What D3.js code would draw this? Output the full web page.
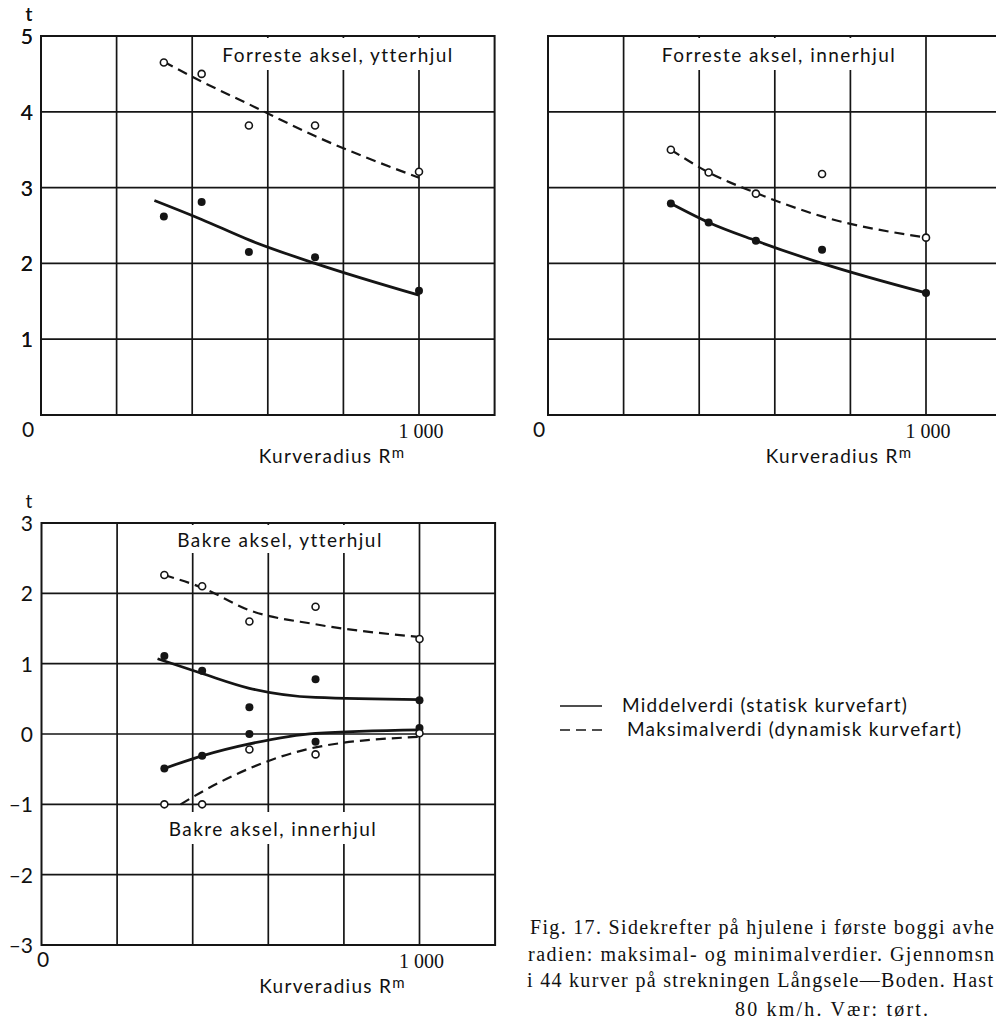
<!DOCTYPE html>
<html>
<head>
<meta charset="utf-8">
<script src="https://cdn.jsdelivr.net/npm/d3@7"></script>
<style>
  body { margin: 0; background: #fff; }
  svg { display: block; }
  .lbl { font-family: Lato, "Open Sans", sans-serif; fill: #111; }
  .num { font-family: "Liberation Serif", serif; fill: #111; }
</style>
</head>
<body>
<div id="chart"></div>
<script>
// Canvas
let width = 996;
let height = 1029;

// Kurveradius (m) for the measured points
let radius = [325, 425, 550, 725, 1000];

// Forreste aksel, ytterhjul
let frontOuterMax = [4.65, 4.50, 3.82, 3.82, 3.21];
let frontOuterMean = [2.62, 2.81, 2.15, 2.08, 1.64];
let frontOuterMaxFitR = [325, 425, 550, 725, 1000];
let frontOuterMaxFit = [4.66, 4.40, 4.10, 3.68, 3.13];
let frontOuterMeanFitR = [300, 425, 550, 725, 1000];
let frontOuterMeanFit = [2.83, 2.58, 2.31, 2.00, 1.58];

// Forreste aksel, innerhjul
let frontInnerMax = [3.50, 3.20, 2.92, 3.18, 2.34];
let frontInnerMean = [2.79, 2.54, 2.30, 2.18, 1.61];
let frontInnerMaxFitR = [325, 425, 550, 725, 1000];
let frontInnerMaxFit = [3.50, 3.20, 2.93, 2.62, 2.34];
let frontInnerMeanFitR = [325, 425, 550, 725, 1000];
let frontInnerMeanFit = [2.79, 2.54, 2.30, 2.00, 1.61];

// Bakre aksel, ytterhjul / innerhjul
let rearOuterMax = [2.26, 2.10, 1.60, 1.81, 1.35];
let rearOuterMean = [1.11, 0.90, 0.38, 0.78, 0.48];
let rearInnerMean = [-0.49, -0.31, 0.00, -0.11, 0.085];
let rearInnerMax = [-1.00, -1.00, -0.22, -0.29, 0.01];
let rearOuterMaxFitR = [325, 425, 550, 725, 1000];
let rearOuterMaxFit = [2.26, 2.08, 1.76, 1.56, 1.38];
let rearOuterMeanFitR = [307, 425, 550, 725, 1000];
let rearOuterMeanFit = [1.07, 0.86, 0.65, 0.52, 0.49];
let rearInnerMeanFitR = [325, 425, 550, 725, 1000];
let rearInnerMeanFit = [-0.49, -0.31, -0.14, 0.01, 0.06];
let rearInnerMaxFitR = [368, 425, 550, 725, 1000];
let rearInnerMaxFit = [-1.00, -0.82, -0.49, -0.19, -0.04];

// Ticks
let xTicks = [0, 200, 400, 600, 800, 1000, 1200];
let topYTicks = [0, 1, 2, 3, 4, 5];
let bottomYTicks = [-3, -2, -1, 0, 1, 2, 3];

// Texts
let axisTitle = "Kurveradius R";
let legendLabels = ["Middelverdi (statisk kurvefart)", "Maksimalverdi (dynamisk kurvefart)"];
let captionLines = [
    "Fig. 17. Sidekrefter på hjulene i første boggi avhe",
    "radien: maksimal- og minimalverdier. Gjennomsn",
    "i 44 kurver på strekningen Långsele—Boden. Hast",
    "80 km/h. Vær: tørt."
];

let ink = "#151515";
let dash = "10,6";

let svg = d3.select("#chart")
    .append("svg")
    .attr("width", width)
    .attr("height", height);

let pair = (rs, vs) => rs.map((r, i) => [r, vs[i]]);

function drawPanel(p) {
    let xScale = d3.scaleLinear().domain([0, 1200]).range([p.left, p.left + 6 * 75.6]);
    let yScale = d3.scaleLinear().domain(p.yDomain).range([p.bottom, p.top]);
    let g = svg.append("g");

    // grid
    g.selectAll(".vgrid")
        .data(xTicks.slice(1, -1))
        .enter().append("line")
        .attr("x1", d => xScale(d)).attr("x2", d => xScale(d))
        .attr("y1", p.top).attr("y2", p.bottom)
        .attr("stroke", ink).attr("stroke-width", 1.7);
    g.selectAll(".hgrid")
        .data(p.yTicks.slice(1, -1))
        .enter().append("line")
        .attr("x1", p.left).attr("x2", xScale(1200))
        .attr("y1", d => yScale(d)).attr("y2", d => yScale(d))
        .attr("stroke", ink).attr("stroke-width", 1.7);

    // white boxes behind the panel titles
    p.titles.forEach(t => {
        g.append("rect")
            .attr("x", t.box[0]).attr("y", t.box[1])
            .attr("width", t.box[2]).attr("height", t.box[3])
            .attr("fill", "#fff");
    });

    // frame
    g.append("rect")
        .attr("x", p.left).attr("y", p.top)
        .attr("width", xScale(1200) - p.left).attr("height", p.bottom - p.top)
        .attr("fill", "none").attr("stroke", ink).attr("stroke-width", 2);

    p.titles.forEach(t => {
        g.append("text").attr("class", "lbl")
            .attr("x", t.x).attr("y", t.y)
            .attr("text-anchor", "middle")
            .style("font-size", "19px").style("letter-spacing", "1.45px")
            .text(t.text);
    });

    // y tick labels
    g.selectAll(".ylab")
        .data(p.yTicks.filter(d => d !== p.skipY))
        .enter().append("text").attr("class", "lbl")
        .attr("x", 33).attr("y", d => yScale(d) + 8)
        .attr("text-anchor", "end")
        .style("font-size", "21px")
        .text(d => d < 0 ? "\u2013" + Math.abs(d) : d);
    g.append("text").attr("class", "lbl")
        .attr("x", 29).attr("y", p.top - 15)
        .attr("text-anchor", "middle").style("font-size", "19px")
        .text("t");

    // x labels
    g.append("text").attr("class", "lbl")
        .attr("x", p.zeroX).attr("y", p.zeroY)
        .attr("text-anchor", "middle").style("font-size", "21px")
        .text("0");
    g.append("text").attr("class", "num")
        .attr("x", xScale(1000) + 2).attr("y", p.bottom + 23)
        .attr("text-anchor", "middle").style("font-size", "20px")
        .text("1 000");
    let at = g.append("text").attr("class", "lbl")
        .attr("x", xScale(770)).attr("y", p.bottom + 48)
        .attr("text-anchor", "middle")
        .style("font-size", "19px").style("letter-spacing", "1.3px")
        .text(axisTitle);
    at.append("tspan").attr("dy", -5).style("font-size", "15px").text("m");

    // fitted curves
    let line = d3.line()
        .curve(d3.curveMonotoneX)
        .x(d => xScale(d[0]))
        .y(d => yScale(d[1]));
    p.fits.forEach(f => {
        g.append("path")
            .datum(f.pts)
            .attr("d", line)
            .attr("fill", "none")
            .attr("stroke", ink)
            .attr("stroke-width", f.dashed ? 2.2 : 2.8)
            .attr("stroke-dasharray", f.dashed ? dash : null);
    });

    // points
    p.means.forEach(vals => {
        g.selectAll(null)
            .data(pair(radius, vals))
            .enter().append("circle")
            .attr("cx", d => xScale(d[0])).attr("cy", d => yScale(d[1]))
            .attr("r", 4).attr("fill", ink);
    });
    p.maxes.forEach(vals => {
        g.selectAll(null)
            .data(pair(radius, vals))
            .enter().append("circle")
            .attr("cx", d => xScale(d[0])).attr("cy", d => yScale(d[1]))
            .attr("r", 3.5).attr("fill", "#fff")
            .attr("stroke", ink).attr("stroke-width", 1.6);
    });
}

drawPanel({
    left: 41, top: 36, bottom: 415, yDomain: [0, 5], yTicks: topYTicks, skipY: 0,
    zeroX: 28, zeroY: 437,
    titles: [{text: "Forreste aksel, ytterhjul", x: 338, y: 62, box: [216, 38, 246, 32]}],
    fits: [
        {pts: pair(frontOuterMaxFitR, frontOuterMaxFit), dashed: true},
        {pts: pair(frontOuterMeanFitR, frontOuterMeanFit), dashed: false}
    ],
    means: [frontOuterMean],
    maxes: [frontOuterMax]
});

drawPanel({
    left: 548, top: 36, bottom: 415, yDomain: [0, 5], yTicks: topYTicks, skipY: 0,
    zeroX: 539, zeroY: 437,
    titles: [{text: "Forreste aksel, innerhjul", x: 779, y: 62, box: [655, 38, 248, 32]}],
    fits: [
        {pts: pair(frontInnerMaxFitR, frontInnerMaxFit), dashed: true},
        {pts: pair(frontInnerMeanFitR, frontInnerMeanFit), dashed: false}
    ],
    means: [frontInnerMean],
    maxes: [frontInnerMax]
});

drawPanel({
    left: 41.5, top: 523, bottom: 945, yDomain: [-3, 3], yTicks: bottomYTicks, skipY: null,
    zeroX: 43, zeroY: 967,
    titles: [
        {text: "Bakre aksel, ytterhjul", x: 280, y: 547, box: [170, 525, 222, 28]},
        {text: "Bakre aksel, innerhjul", x: 273, y: 836, box: [163, 812, 222, 32]}
    ],
    fits: [
        {pts: pair(rearOuterMaxFitR, rearOuterMaxFit), dashed: true},
        {pts: pair(rearOuterMeanFitR, rearOuterMeanFit), dashed: false},
        {pts: pair(rearInnerMeanFitR, rearInnerMeanFit), dashed: false},
        {pts: pair(rearInnerMaxFitR, rearInnerMaxFit), dashed: true}
    ],
    means: [rearOuterMean, rearInnerMean],
    maxes: [rearOuterMax, rearInnerMax]
});

// Legend
let legend = svg.append("g");
legendLabels.forEach((txt, i) => {
    let y = 706 + i * 24;
    legend.append("line")
        .attr("x1", 560).attr("x2", 602)
        .attr("y1", y).attr("y2", y)
        .attr("stroke", ink).attr("stroke-width", 1.6)
        .attr("stroke-dasharray", i ? "10,6" : null);
    legend.append("text").attr("class", "lbl")
        .attr("x", i ? 627 : 622).attr("y", y + 6)
        .style("font-size", "19px").style("letter-spacing", "1.2px")
        .text(txt);
});

// Caption
let capStart = [530, 528, 527];
let capEnd = [994, 994, 993];
captionLines.forEach((txt, i) => {
    let t = svg.append("text").attr("class", "num")
        .attr("y", 934 + i * 26.5 + (i === 3 ? 2 : 0))
        .style("font-size", "20px")
        .text(txt);
    if (i < 3) {
        t.attr("x", capStart[i])
            .attr("textLength", capEnd[i] - capStart[i])
            .attr("lengthAdjust", "spacing");
    } else {
        t.attr("x", 735)
            .attr("textLength", 193)
            .attr("lengthAdjust", "spacing");
    }
});
</script>
</body>
</html>
